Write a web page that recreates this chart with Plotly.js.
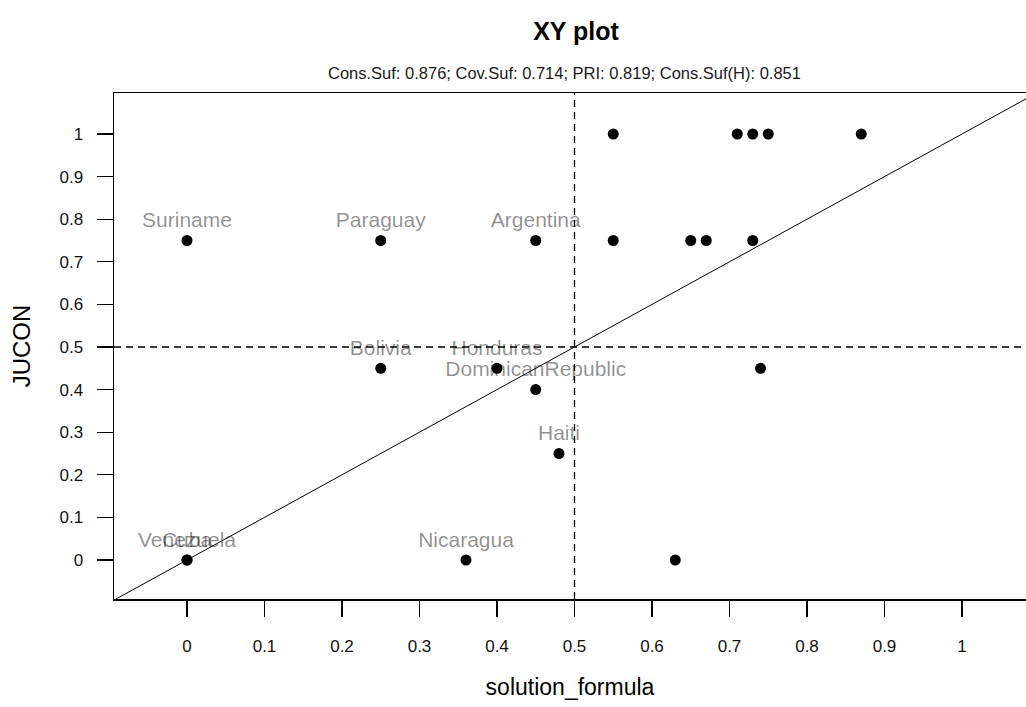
<!DOCTYPE html>
<html>
<head>
<meta charset="utf-8">
<script src="https://cdn.plot.ly/plotly-3.0.1.min.js"></script>
<style>
  html, body { margin: 0; padding: 0; background: #ffffff; overflow: hidden; }
  #chart { width: 1026px; height: 707px; }
</style>
</head>
<body>
<div id="chart"></div>
<script>
// ---- data ----
const labeledCases = ["Suriname", "Paraguay", "Argentina", "Bolivia", "Honduras",
                      "DominicanRepublic", "Haiti", "Nicaragua", "Venezuela", "Cuba"];
const labeledX = [0, 0.25, 0.45, 0.25, 0.40, 0.45, 0.48, 0.36, 0, 0];
const labeledY = [0.75, 0.75, 0.75, 0.45, 0.45, 0.40, 0.25, 0, 0, 0];

const otherX = [0.55, 0.71, 0.73, 0.75, 0.87, 0.55, 0.65, 0.67, 0.73, 0.74, 0.63];
const otherY = [1, 1, 1, 1, 1, 0.75, 0.75, 0.75, 0.75, 0.45, 0];

const diagonal = [-0.2, 1.2];          // y = x reference line
const threshold = 0.5;                 // 0.5 crossover lines

const tickVals = [0, 0.1, 0.2, 0.3, 0.4, 0.5, 0.6, 0.7, 0.8, 0.9, 1];
const tickText = ["0", "0.1", "0.2", "0.3", "0.4", "0.5", "0.6", "0.7", "0.8", "0.9", "1"];

const chartTitle = "XY plot";
const subTitle = "Cons.Suf: 0.876; Cov.Suf: 0.714; PRI: 0.819; Cons.Suf(H): 0.851";
const xTitle = "solution_formula";
const yTitle = "JUCON";

// ---- chart ----
const FONT = "Liberation Sans, Arial, sans-serif";

const traces = [
  {
    type: "scatter", mode: "lines",
    x: diagonal, y: diagonal,
    line: { color: "#000000", width: 1 },
    hoverinfo: "skip", showlegend: false
  },
  {
    type: "scatter", mode: "markers",
    x: otherX, y: otherY,
    marker: { color: "#000000", size: 11, symbol: "circle" },
    hoverinfo: "skip", showlegend: false
  },
  {
    type: "scatter", mode: "markers+text",
    x: labeledX, y: labeledY,
    text: labeledCases,
    textposition: "top center",
    textfont: { family: FONT, size: 21, color: "rgba(0,0,0,0.44)" },
    marker: { color: "#000000", size: 11, symbol: "circle" },
    cliponaxis: false,
    hoverinfo: "skip", showlegend: false
  }
];

const axisCommon = {
  tickmode: "array",
  tickvals: tickVals,
  ticktext: tickText,
  ticks: "outside",
  ticklen: 16,
  tickwidth: 1.3,
  tickcolor: "#000000",
  showgrid: false,
  zeroline: false,
  showline: true,
  linecolor: "#000000",
  linewidth: 1.5,
  tickfont: { family: FONT, size: 17, color: "#111111" },
  automargin: false
};

const layout = {
  width: 1026, height: 707,
  paper_bgcolor: "#ffffff", plot_bgcolor: "#ffffff",
  margin: { l: 114, r: 0, t: 93, b: 108, pad: 0 },
  showlegend: false,
  title: {
    text: "<b>" + chartTitle + "</b>",
    font: { family: FONT, size: 25, color: "#000000" },
    xref: "container", yref: "container",
    x: 576 / 1026, xanchor: "center",
    y: 1 - 31 / 707, yanchor: "middle"
  },
  xaxis: Object.assign({}, axisCommon, {
    range: [(114 - 187) / 775, (1026 - 187) / 775],
    mirror: true,
    ticklabelstandoff: 15,
    title: { text: xTitle, font: { family: FONT, size: 23, color: "#000000" }, standoff: 24 }
  }),
  yaxis: Object.assign({}, axisCommon, {
    range: [(560 - 599) / 426, (560 - 93) / 426],
    mirror: false,
    ticklabelstandoff: 10,
    title: { text: yTitle, font: { family: FONT, size: 24, color: "#000000" }, standoff: 22 }
  }),
  shapes: [
    { type: "line", xref: "x", yref: "paper", x0: threshold, x1: threshold, y0: 0, y1: 1,
      line: { color: "#000000", width: 1.3, dash: "7px,5px" }, layer: "above" },
    { type: "line", xref: "paper", yref: "y", x0: 0, x1: 1, y0: threshold, y1: threshold,
      line: { color: "#000000", width: 1.3, dash: "7px,5px" }, layer: "above" }
  ],
  annotations: [
    { text: subTitle, xref: "paper", yref: "paper",
      x: (564 - 114) / 912, y: 1 + (93 - 73) / 506,
      xanchor: "center", yanchor: "middle", showarrow: false,
      font: { family: FONT, size: 16.5, color: "#1a1a1a" } }
  ]
};

Plotly.newPlot("chart", traces, layout, { staticPlot: true, displayModeBar: false });
</script>
</body>
</html>
